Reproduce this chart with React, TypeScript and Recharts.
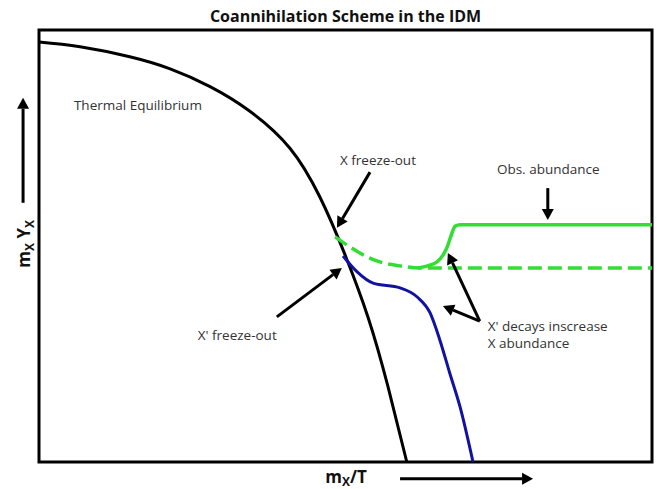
import { LineChart, Line, XAxis, YAxis, ReferenceArea, ReferenceLine, ReferenceDot } from "recharts";

// curves, in arbitrary units (x: m/T, y: mY), both 0..100 across the frame
const eqX = [0, 6.7, 14.8, 21.4, 27.9, 34.4, 40.9, 45.8, 49.8, 53.7, 56.9, 60.0];
const eqY = [97.2, 96.1, 93.8, 91.0, 86.9, 81.2, 72.7, 61.4, 48.4, 33.4, 17.6, 0];

const xFreezeX = [48.3, 50.7, 53.5, 56.1, 58.9, 62.2, 100];
const xFreezeY = [52.1, 49.8, 47.5, 46.1, 45.4, 44.9, 44.9];

const obsX = [61.8, 63.4, 64.9, 65.9, 66.6, 67.2, 67.9, 68.7, 100];
const obsY = [44.9, 45.4, 46.3, 47.9, 49.8, 52.3, 54.6, 54.9, 54.9];

const xpX = [49.6, 51.9, 54.5, 58.9, 61.7, 63.8, 65.4, 67.0, 68.7, 70.8];
const xpY = [47.7, 44.0, 41.4, 40.3, 38.2, 34.5, 28.2, 20.6, 12.7, 0];

const zip = (xs: number[], ys: number[]) => xs.map((x, i) => ({ x, y: ys[i] }));

// annotation arrows: [x1, y1, x2 (tip), y2 (tip)]
const arrows = [
  [54.0, 67.1, 48.6, 54.2],
  [83.0, 63.4, 83.0, 56.0],
  [38.8, 33.6, 49.4, 44.9],
  [71.9, 32.6, 66.7, 48.4],
  [71.9, 32.6, 65.9, 36.1],
  [-2.6, 60.0, -2.6, 84.3],
  [58.9, -3.9, 80.6, -3.9],
];

// text labels: [text, x, y]
const notes: [string, number, number][] = [
  ["Thermal Equilibrium", 5.7, 81.5],
  ["X freeze-out", 49.1, 68.7],
  ["Obs. abundance", 74.7, 66.7],
  ["X' freeze-out", 25.9, 28.2],
  ["X' decays inscrease", 73.2, 30.3],
  ["X abundance", 73.2, 26.4],
];

const font = "'Open Sans', sans-serif";

const arrowShape = (p: any) => {
  const { x1, y1, x2, y2 } = p;
  const a = Math.atan2(y2 - y1, x2 - x1);
  const L = 11, W = 6;
  const bx = x2 - L * Math.cos(a), by = y2 - L * Math.sin(a);
  const pts = [
    [x2, y2],
    [bx + W * Math.sin(a), by - W * Math.cos(a)],
    [bx - W * Math.sin(a), by + W * Math.cos(a)],
  ].map((q) => q.join(",")).join(" ");
  return (
    <g>
      <line x1={x1} y1={y1} x2={bx} y2={by} stroke="#000" strokeWidth={3} />
      <polygon points={pts} fill="#000" />
    </g>
  );
};

const App = () => (
  <div style={{ position: "absolute", left: 0, top: 0 }}>
    <LineChart width={657} height={489} margin={{ top: 30, right: 5, bottom: 27, left: 39 }}>
      <XAxis type="number" dataKey="x" domain={[0, 100]} hide />
      <YAxis type="number" dataKey="y" domain={[0, 100]} hide />
      <ReferenceArea x1={0} x2={100} y1={0} y2={100} fill="none" stroke="#000" strokeWidth={3} ifOverflow="visible" />
      <Line data={zip(eqX, eqY)} dataKey="y" type="natural" stroke="#000" strokeWidth={3} dot={false} isAnimationActive={false} />
      <Line data={zip(xpX, xpY)} dataKey="y" type="monotone" stroke="#1212a0" strokeWidth={3} dot={false} isAnimationActive={false} />
      <Line data={zip(xFreezeX, xFreezeY)} dataKey="y" type="monotone" stroke="#33dd33" strokeWidth={3.5} strokeDasharray="14 6" dot={false} isAnimationActive={false} />
      <Line data={zip(obsX, obsY)} dataKey="y" type="monotone" stroke="#33dd33" strokeWidth={3.5} dot={false} isAnimationActive={false} />
      {arrows.map((a, i) => (
        <ReferenceLine key={i} segment={[{ x: a[0], y: a[1] }, { x: a[2], y: a[3] }]} ifOverflow="visible" shape={arrowShape} />
      ))}
      {notes.map(([t, x, y]) => (
        <ReferenceDot key={t} x={x} y={y} r={0} ifOverflow="visible"
          shape={(p: any) => (
            <text x={p.cx} y={p.cy} fontFamily={font} fontSize={13.5} fill="#333">{t}</text>
          )} />
      ))}
      <ReferenceDot x={50} y={101.9} r={0} ifOverflow="visible"
        shape={(p: any) => (
          <text x={p.cx} y={p.cy} textAnchor="middle" fontFamily={font} fontWeight="bold" fontSize={16} fill="#111">
            Coannihilation Scheme in the IDM
          </text>
        )} />
      <ReferenceDot x={46.7} y={-4.9} r={0} ifOverflow="visible"
        shape={(p: any) => (
          <text x={p.cx} y={p.cy} fontFamily={font} fontWeight="bold" fontSize={17} fill="#111">
            m<tspan dy={3} fontSize={12}>X</tspan><tspan dy={-3}>/T</tspan>
          </text>
        )} />
      <ReferenceDot x={-1.47} y={50.5} r={0} ifOverflow="visible"
        shape={(p: any) => (
          <text x={p.cx} y={p.cy} textAnchor="middle" transform={`rotate(-90 ${p.cx} ${p.cy})`}
            fontFamily={font} fontWeight="bold" fontSize={17} fill="#111">
            m<tspan dy={4} fontSize={12}>X</tspan><tspan dy={-4}> Y</tspan><tspan dy={4} fontSize={12}>X</tspan>
          </text>
        )} />
    </LineChart>
  </div>
);

export default App;
